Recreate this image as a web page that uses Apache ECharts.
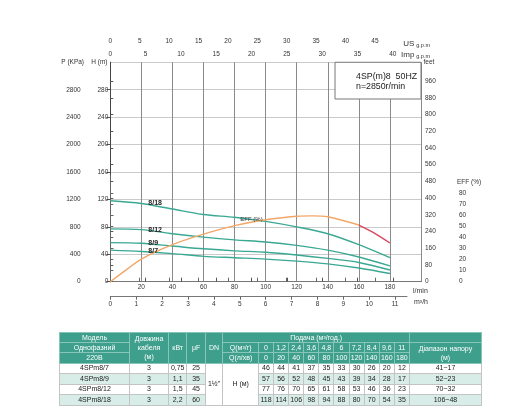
<!DOCTYPE html>
<html><head><meta charset="utf-8">
<script src="https://cdn.jsdelivr.net/npm/echarts@6/dist/echarts.min.js"></script>
<style>
html,body{margin:0;padding:0;background:#fff;}
#chart{position:absolute;left:0;top:0;width:512px;height:419px;}
#tbl{position:absolute;left:59px;top:332px;width:422px;border-collapse:collapse;table-layout:fixed;font-family:'Liberation Sans',Arial,sans-serif;font-size:7px;color:#222;}
#tbl td{border:1px solid #c4c4c4;padding:0;text-align:center;white-space:nowrap;overflow:hidden;line-height:8px;}
#tbl tr.h td{background:#3e9f8d;color:#fff;border-color:#86c5b8;height:8px;line-height:9.2px;}
#tbl tr.d td{height:9.5px;}
#tbl tr.alt td.v{background:#d8ede7;}
</style></head><body>
<div id="chart"></div>
<table id="tbl"></table>
<script>
// ---- data ----
const qLmin = [0, 20, 40, 60, 80, 100, 120, 140, 160, 180];
const qM3 = ['0', '1,2', '2,4', '3,6', '4,8', '6', '7,2', '8,4', '9,6', '11'];
const models = ['4SPm8/7', '4SPm8/9', '4SPm8/12', '4SPm8/18'];
const curveNames = ['8/7', '8/9', '8/12', '8/18'];
const head7 = [46, 44, 41, 37, 35, 33, 30, 26, 20, 12];
const head9 = [57, 56, 52, 48, 45, 43, 39, 34, 28, 17];
const head12 = [77, 76, 70, 65, 61, 58, 53, 46, 36, 23];
const head18 = [118, 114, 106, 98, 94, 88, 80, 70, 54, 35];
const cableLen = ['3', '3', '3', '3'];
const powerKw = ['0,75', '1,1', '1,5', '2,2'];
const capUf = ['25', '35', '45', '60'];
const headRange = ['41~17', '52~23', '70~32', '106~48'];
const effQ = [0, 10, 20, 40, 60, 80, 100, 120, 130, 140, 160];
const effV = [0, 10.5, 20.5, 33.5, 43, 50.7, 56, 59.2, 59.6, 58.8, 51.3];
const effQHigh = [160, 170, 180];
const effVHigh = [51.3, 44, 35];
// tick labels
const usTicks = [0, 5, 10, 15, 20, 25, 30, 35, 40, 45];
const impTicks = [0, 5, 10, 15, 20, 25, 30, 35, 40];
const feetTicks = [0, 80, 160, 240, 320, 400, 480, 560, 640, 720, 800, 880, 960];
const kpaTicks = [0, 400, 800, 1200, 1600, 2000, 2400, 2800];
const effTicks = [0, 10, 20, 30, 40, 50, 60, 70, 80];
const m3Ticks = [0, 1, 2, 3, 4, 5, 6, 7, 8, 9, 10, 11];

// ---- layout ----
const W = 512, H = 419;
const L = 110.3, R = W - 421, T = 62.3, B = H - 281.7;
const plotW = W - L - R;
const qMax = 200, hMax = 320;
const m3Right = 407;
const m3Max = qMax * 0.06 * (m3Right - L) / plotW;
const effTop = 175.6, effMax = 96;
const FONT = "'Liberation Sans', Arial, sans-serif";
const lab = (extra) => Object.assign({fontSize: 6.5, color: '#333', fontFamily: FONT, formatter: v => String(v)}, extra || {});
const teal = '#3aa893';

const heads = [head7, head9, head12, head18];

const chart = echarts.init(document.getElementById('chart'), null, {renderer: 'canvas'});

const pumpSeries = heads.map((h, k) => ({
  type: 'line', xAxisIndex: 0, yAxisIndex: 0, smooth: 0.3,
  symbol: 'circle', symbolSize: 0, showSymbol: true,
  lineStyle: {color: teal, width: 1.4}, itemStyle: {color: teal},
  z: 3,
  data: qLmin.map((q, i) => i === 1 ? {
    value: [q, h[i]],
    label: {show: true, position: 'right', distance: 7, formatter: curveNames[k],
      fontSize: 7, fontWeight: 'bold', color: '#222', fontFamily: FONT}
  } : [q, h[i]])
}));

const txt = (text, x, y, align, extra) => ({
  type: 'text', x: x, y: y, z: 10,
  style: Object.assign({text: text, fill: '#333', fontSize: 6.5, fontFamily: FONT,
    align: align, verticalAlign: 'middle'}, extra || {})
});
const gpmRich = {
  a: {fontSize: 8, fill: '#333', fontFamily: FONT, lineHeight: 9, verticalAlign: 'bottom'},
  b: {fontSize: 5.5, fill: '#333', fontFamily: FONT, lineHeight: 9, verticalAlign: 'bottom', padding: [0, 0, 0, 0]}
};

const option = {
  animation: false,
  backgroundColor: '#fff',
  title: {
    text: '4SP(m)8  50HZ\nn=2850r/min', left: 351, top: 66.5, z: 10,
    textStyle: {fontSize: 8.8, fontWeight: 'normal', color: '#222', lineHeight: 10, fontFamily: FONT}
  },
  graphic: [
    {
      type: 'rect', z: 5,
      shape: {x: 335, y: T, width: W - R - 335, height: 99 - T},
      style: {fill: '#fff', stroke: '#777', lineWidth: 1}
    },
    txt('P (KPa)', 84, 62.3, 'right'),
    txt('H (m)', 107.5, 62.3, 'right'),
    txt('feet', 423.5, 62.7, 'left'),
    txt('EFF (%)', 457, 182, 'left'),
    txt('{a|US} {b|g.p.m}', 430, 43.5, 'right', {rich: gpmRich}),
    txt('{a|Imp} {b|g.p.m}', 430, 54.5, 'right', {rich: gpmRich})
  ],
  grid: [
    {left: L, right: R, top: T, bottom: B},
    {left: L, right: R, top: effTop, bottom: B},
    {left: L, right: W - m3Right, top: 285, bottom: H - 296.7}
  ],
  xAxis: [
    { // l/min
      gridIndex: 0, type: 'value', position: 'bottom', min: 0, max: qMax, interval: 20,
      name: 'l/min', nameLocation: 'end', nameGap: -8,
      nameTextStyle: {fontSize: 7, color: '#333', fontFamily: FONT, align: 'left', verticalAlign: 'top', padding: [6, 0, 0, 0]},
      axisLine: {lineStyle: {color: '#444', width: 1}},
      axisTick: {show: false},
      axisLabel: lab({margin: 2, showMinLabel: false, showMaxLabel: false}),
      splitLine: {show: true, lineStyle: {color: '#8a8a8a', width: 1}}
    },
    { // Imp g.p.m
      gridIndex: 0, type: 'value', position: 'top', min: 0, max: qMax / 4.54609,
      axisLine: {lineStyle: {color: '#444', width: 1}},
      axisTick: {show: true, inside: false, length: 4, customValues: impTicks, lineStyle: {color: '#555'}},
      axisLabel: lab({margin: 5, customValues: impTicks}),
      splitLine: {show: false}
    },
    { // US g.p.m
      gridIndex: 0, type: 'value', position: 'top', offset: 13, min: 0, max: qMax / 3.78541,
      axisLine: {lineStyle: {color: '#777', width: 1}},
      axisTick: {show: true, length: 4, customValues: usTicks, lineStyle: {color: '#666'}},
      axisLabel: lab({margin: 5, customValues: usTicks}),
      splitLine: {show: false}
    },
    { // hidden for efficiency grid
      gridIndex: 1, type: 'value', min: 0, max: qMax, show: false
    },
    { // m3/h
      gridIndex: 2, type: 'value', position: 'bottom', min: 0, max: m3Max,
      name: 'm³/h', nameLocation: 'end', nameGap: 7,
      nameTextStyle: {fontSize: 7, color: '#333', fontFamily: FONT, align: 'left', verticalAlign: 'top', padding: [2, 0, 0, 0]},
      axisLine: {lineStyle: {color: '#777', width: 1}},
      axisTick: {show: true, length: 3, customValues: m3Ticks, lineStyle: {color: '#666'}},
      axisLabel: lab({margin: 4, customValues: m3Ticks}),
      splitLine: {show: false}
    }
  ],
  yAxis: [
    { // H (m)
      gridIndex: 0, type: 'value', position: 'left', min: 0, max: hMax, interval: 40,
      axisLine: {show: true, lineStyle: {color: '#444', width: 1}},
      axisTick: {show: false},
      axisLabel: lab({margin: 2, showMaxLabel: false}),
      splitLine: {show: true, lineStyle: {color: '#cacaca', width: 1}}
    },
    { // P (KPa)
      gridIndex: 0, type: 'value', position: 'left', offset: L - 85.7, min: 0, max: hMax * 10,
      axisLine: {show: true, lineStyle: {color: '#555', width: 1}},
      axisTick: {show: true, length: 4, customValues: kpaTicks, lineStyle: {color: '#555'}},
      axisLabel: lab({margin: 5, customValues: kpaTicks}),
      splitLine: {show: false}
    },
    { // feet
      gridIndex: 0, type: 'value', position: 'right', min: 0, max: hMax * 3.28084,
      axisLine: {show: true, lineStyle: {color: '#444', width: 1}},
      axisTick: {show: true, length: 3, customValues: feetTicks, lineStyle: {color: '#555'}},
      axisLabel: lab({margin: 4, customValues: feetTicks}),
      splitLine: {show: false}
    },
    { // EFF (%)
      gridIndex: 1, type: 'value', position: 'right', offset: 455 - (W - R), min: 0, max: effMax,
      axisLine: {show: true, lineStyle: {color: '#666', width: 1}},
      axisTick: {show: true, length: 3, customValues: effTicks, lineStyle: {color: '#666'}},
      axisLabel: lab({margin: 4, customValues: effTicks}),
      splitLine: {show: false}
    },
    { gridIndex: 2, type: 'value', show: false }
  ],
  series: pumpSeries.concat([
    {
      type: 'line', xAxisIndex: 3, yAxisIndex: 3, smooth: 0.3,
      symbol: 'circle', symbolSize: 0, showSymbol: true, z: 3,
      lineStyle: {color: '#f2a766', width: 1.4}, itemStyle: {color: '#f2a766'},
      data: effQ.map((q, i) => q === 100 ? {
        value: [q, effV[i]],
        label: {show: true, position: 'left', distance: 3, formatter: 'EFF (%)',
          fontSize: 6, color: '#333', fontFamily: FONT}
      } : [q, effV[i]])
    },
    {
      type: 'line', xAxisIndex: 3, yAxisIndex: 3, smooth: 0.3,
      symbol: 'none', z: 3,
      lineStyle: {color: '#d8475d', width: 1.4},
      data: effQHigh.map((q, i) => [q, effVHigh[i]])
    }
  ])
};
chart.setOption(option);

// ---- table ----
const colW = [70, 39, 18.4, 18.3, 17.7, 35.6].concat(qLmin.map(() => 15.1)).concat([72]);
let html = '<colgroup>' + colW.map(w => '<col style="width:' + w + 'px">').join('') + '</colgroup>';
html += '<tr class="h"><td>Модель</td><td rowspan="3">Довжина<br>кабеля<br>(м)</td><td rowspan="3">кВт</td>' +
  '<td rowspan="3">μF</td><td rowspan="3">DN</td><td colspan="11">Подача (м³/год.)</td><td></td></tr>';
html += '<tr class="h"><td>Однофазний</td><td>Q(м³/г)</td>' + qM3.map(v => '<td>' + v + '</td>').join('') +
  '<td rowspan="2">Діапазон напору<br>(м)</td></tr>';
html += '<tr class="h"><td>220В</td><td>Q(л/хв)</td>' + qLmin.map(v => '<td>' + v + '</td>').join('') + '</tr>';
models.forEach((m, r) => {
  html += '<tr class="d' + (r % 2 ? ' alt' : '') + '"><td class="v">' + m + '</td><td class="v">' + cableLen[r] +
    '</td><td class="v">' + powerKw[r] + '</td><td class="v">' + capUf[r] + '</td>';
  if (r === 0) html += '<td rowspan="4">1½"</td><td rowspan="4">H (м)</td>';
  html += heads[r].map(v => '<td class="v">' + v + '</td>').join('') + '<td class="v">' + headRange[r] + '</td></tr>';
});
document.getElementById('tbl').innerHTML = html;
</script>
</body></html>
